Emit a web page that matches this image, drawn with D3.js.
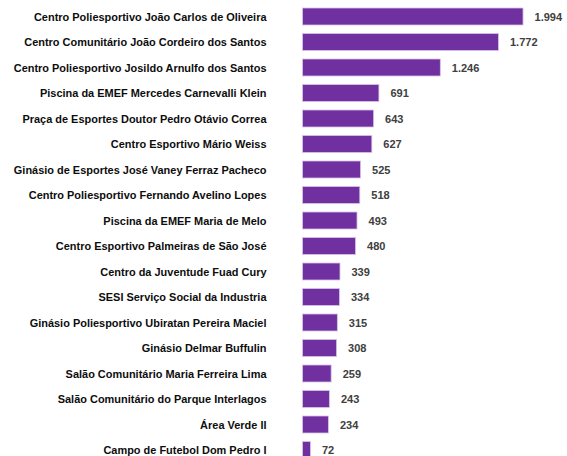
<!DOCTYPE html>
<html>
<head>
<meta charset="utf-8">
<script src="https://cdn.jsdelivr.net/npm/d3@7"></script>
<style>
  body { margin: 0; background: #fff; }
  svg { display: block; }
</style>
</head>
<body>
<div id="chart"></div>
<script>
'use strict';

const Color = {
  Bar: `#7030A0`,
  BarEdge: `#d8c4e8`,
  Label: `#0d0d0d`,
  Value: `#404040`,
};

// locais (ordem do gráfico, de cima para baixo)
const categories = [
  "Centro Poliesportivo João Carlos de Oliveira",
  "Centro Comunitário João Cordeiro dos Santos",
  "Centro Poliesportivo Josildo Arnulfo dos Santos",
  "Piscina da EMEF Mercedes Carnevalli Klein",
  "Praça de Esportes Doutor Pedro Otávio Correa",
  "Centro Esportivo Mário Weiss",
  "Ginásio de Esportes José Vaney Ferraz Pacheco",
  "Centro Poliesportivo Fernando Avelino Lopes",
  "Piscina da EMEF Maria de Melo",
  "Centro Esportivo Palmeiras de São José",
  "Centro da Juventude Fuad Cury",
  "SESI Serviço Social da Industria",
  "Ginásio Poliesportivo Ubiratan Pereira Maciel",
  "Ginásio Delmar Buffulin",
  "Salão Comunitário Maria Ferreira Lima",
  "Salão Comunitário do Parque Interlagos",
  "Área Verde II",
  "Campo de Futebol Dom Pedro I",
];

const values = [1994, 1772, 1246, 691, 643, 627, 525, 518, 493, 480, 339, 334, 315, 308, 259, 243, 234, 72];

const width = 567,
    height = 456;

const font = "'Liberation Sans', Arial, sans-serif";
const labelRight = 266.5;
const squeeze = 0.97; // Calibri is a bit narrower than Liberation Sans

const svg = d3.select("#chart")
  .append("svg")
    .attr("width", width)
    .attr("height", height);

const data = categories.map((c, i) => ({name: c, value: values[i]}));

// número no formato pt-BR: 1.994
const fmt = d3.formatLocale({decimal: ",", thousands: ".", grouping: [3], currency: ["R$", ""]}).format(",d");

const x = d3.scaleLinear()
  .domain([0, 2000])
  .range([302.5, 523.7]);

const y = d3.scaleBand()
  .domain(categories)
  .range([3.75, 3.75 + 25.5 * categories.length])
  .paddingInner(1 / 3)
  .paddingOuter(1 / 6);

// barras
svg.selectAll(".bar")
  .data(data)
  .enter()
  .append("rect")
    .attr("class", "bar")
    .attr("x", x(0))
    .attr("y", d => y(d.name))
    .attr("width", d => x(d.value) - x(0))
    .attr("height", y.bandwidth())
    .attr("fill", Color.Bar)
    .attr("stroke", Color.BarEdge)
    .attr("stroke-width", 0.8);

// nomes dos locais
svg.selectAll(".cat")
  .data(data)
  .enter()
  .append("text")
    .attr("class", "cat")
    .attr("transform", d => `translate(${labelRight},${y(d.name) + y.bandwidth() / 2}) scale(${squeeze},1)`)
    .attr("dy", "0.36em")
    .attr("text-anchor", "end")
    .style("font-family", font)
    .style("font-weight", "bold")
    .style("font-size", "11.3px")
    .attr("fill", Color.Label)
    .text(d => d.name);

// valores
svg.selectAll(".val")
  .data(data)
  .enter()
  .append("text")
    .attr("class", "val")
    .attr("transform", d => `translate(${x(d.value) + 11.5},${y(d.name) + y.bandwidth() / 2}) scale(0.935,1)`)
    .attr("dy", "0.36em")
    .style("font-family", font)
    .style("font-weight", "bold")
    .style("font-size", "11.8px")
    .attr("fill", Color.Value)
    .text(d => fmt(d.value));
</script>
</body>
</html>
